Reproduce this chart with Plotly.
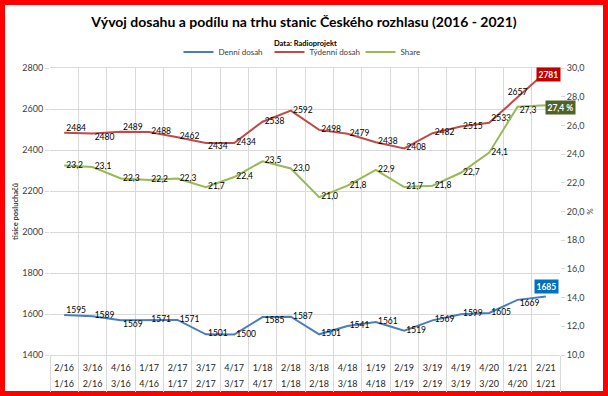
import plotly.graph_objects as go

# ---- data ----
q_start = ["1/16", "2/16", "3/16", "4/16", "1/17", "2/17", "3/17", "4/17", "1/18",
           "2/18", "3/18", "4/18", "1/19", "2/19", "3/19", "3/20", "4/20", "1/21"]
q_end = ["2/16", "3/16", "4/16", "1/17", "2/17", "3/17", "4/17", "1/18", "2/18",
         "3/18", "4/18", "1/19", "2/19", "3/19", "4/19", "4/20", "1/21", "2/21"]
daily = [1595, 1589, 1569, 1571, 1571, 1501, 1500, 1585, 1587,
         1501, 1541, 1561, 1519, 1569, 1599, 1605, 1669, 1685]
weekly = [2484, 2480, 2489, 2488, 2462, 2434, 2434, 2538, 2592,
          2498, 2479, 2438, 2408, 2482, 2515, 2533, 2657, 2781]
share = [23.2, 23.1, 22.3, 22.2, 22.3, 21.7, 22.4, 23.5, 23.0,
         21.0, 21.8, 22.9, 21.7, 21.8, 22.7, 24.1, 27.3, 27.4]

names = ["Denní dosah", "Týdenní dosah", "Share"]
title = "Vývoj dosahu a podílu na trhu stanic Českého rozhlasu (2016 - 2021)"
subtitle = "Data: Radioprojekt"

# label placement (T = above, B = below, C = above centred, . = beside)
pos_daily = list("T.B....B........B.")
pos_weekly = list("TBT..B.........TC.")
pos_share = list("................B.")

# ---- styling ----
W, H = 608, 396
ML, MR, MT, MB = 50, 48, 68, 41
PW, PH = W - ML - MR, H - MT - MB
FONT = "Lato"
C_BLUE, C_RED, C_GREEN = "#4A7EBB", "#BE4B48", "#98B954"
GRID = "#D9D9D9"
TXT = "#404040"
POSMAP = {"T": "top right", "B": "bottom right", "C": "top center", ".": "middle right"}
FRAME = 5

cats = [f"{a}-{b}" for a, b in zip(q_start, q_end)]
ticktext = [f"<span style='font-size:9px'>{b}</span><br><span style='font-size:9px'>{a}</span>"
            for a, b in zip(q_start, q_end)]


def comma(v):
    return f"{v:.1f}".replace(".", ",")


fig = go.Figure()
series = [(daily, C_BLUE, "y", [str(v) for v in daily], pos_daily),
          (weekly, C_RED, "y", [str(v) for v in weekly], pos_weekly),
          (share, C_GREEN, "y2", [comma(v) for v in share], pos_share)]
for (vals, col, yax, labels, pos), nm in zip(series, names):
    fig.add_trace(go.Scatter(x=cats, y=vals, name=nm, mode="lines", yaxis=yax,
                             line=dict(color=col, width=2)))
for (vals, col, yax, labels, pos), nm in zip(series, names):
    tp = [POSMAP[c] for c in pos]
    txt = [(" " + t) if p != "C" else t for t, p in zip(labels, pos)]
    txt[-1] = ""  # last value is shown in a coloured box
    fig.add_trace(go.Scatter(x=cats, y=vals, mode="text", yaxis=yax, showlegend=False,
                             text=txt, textposition=tp,
                             textfont=dict(family=FONT, size=8.5, color="#000000"),
                             hoverinfo="skip"))

# boxed labels for the last values
fig.add_annotation(x=cats[-1], y=weekly[-1], yref="y", text=f"<b>{weekly[-1]}</b>",
                   showarrow=False, bgcolor="#C00000", font=dict(family=FONT, size=8.5, color="white"),
                   borderpad=1.5, xshift=3, yshift=-3)
fig.add_annotation(x=cats[-1], y=share[-1], yref="y2", text=f"<b>{comma(share[-1])} %</b>",
                   showarrow=False, bgcolor="#4F6228", font=dict(family=FONT, size=8.5, color="white"),
                   borderpad=1.5, xanchor="left", xshift=-1, yshift=-2)
fig.add_annotation(x=cats[-1], y=daily[-1], yref="y", text=f"<b>{daily[-1]}</b>",
                   showarrow=False, bgcolor="#0070C0", font=dict(family=FONT, size=8.5, color="white"),
                   borderpad=1.5, xshift=1, yshift=10)
fig.add_annotation(x=0.5, xref="paper", y=(H - MB - 37) / PH, yref="paper", text=f"<b>{subtitle}</b>",
                   showarrow=False, font=dict(family=FONT, size=7.5, color="#000000"))

# red frame round the chart
half = FRAME / 2
fig.add_shape(type="rect", xref="paper", yref="paper",
              x0=(half - ML) / PW, x1=(W - half - ML) / PW,
              y0=(half - MB) / PH, y1=(H - half - MB) / PH,
              line=dict(color="#FF0000", width=FRAME), layer="below")

fig.update_layout(
    width=W, height=H, autosize=False,
    margin=dict(l=ML, r=MR, t=MT, b=MB),
    paper_bgcolor="white", plot_bgcolor="white",
    separators=", ",
    font=dict(family=FONT, size=9, color=TXT),
    title=dict(text=f"<b>{title}</b>", x=0.5, xanchor="center", xref="container",
               y=1 - 22 / H, yanchor="middle", yref="container",
               font=dict(family=FONT, size=14, color="#000000"), automargin=False),
    legend=dict(orientation="h", x=0.5 + 10 / PW, xanchor="center", y=(H - MB - 52) / PH,
                yanchor="middle",
                font=dict(family=FONT, size=8, color=TXT), bgcolor="rgba(0,0,0,0)",
                itemwidth=30, entrywidth=46, tracegroupgap=0),
    showlegend=True,
    xaxis=dict(type="category", tickmode="array", tickvals=cats, ticktext=ticktext,
               tickson="boundaries", ticks="outside", ticklen=36, tickcolor=GRID,
               ticklabelstandoff=0, tickangle=0, automargin=False,
               showgrid=True, gridcolor=GRID, showline=True, linecolor=GRID, mirror=True,
               tickfont=dict(family=FONT, size=12.3, color="#262626"), range=[-0.5, len(cats) - 0.5]),
    yaxis=dict(range=[1400, 2800], dtick=200, showgrid=True, gridcolor=GRID, automargin=False,
               ticks="outside", ticklen=4, tickcolor=GRID, zeroline=False,
               tickfont=dict(family=FONT, size=9, color=TXT),
               title=dict(text="<b>tisíce posluchačů</b>", font=dict(family=FONT, size=7.5, color=TXT),
                          standoff=2)),
    yaxis2=dict(range=[10, 30], dtick=2, overlaying="y", side="right", showgrid=False,
                automargin=False,
                tickformat=".1f", ticks="outside", ticklen=4, tickcolor=GRID, zeroline=False,
                tickfont=dict(family=FONT, size=9, color=TXT),
                title=dict(text="%", font=dict(family=FONT, size=8, color=TXT), standoff=2)),
)

fig.write_html("out.html", config={"displayModeBar": False},
               post_script="document.body.style.margin='0';")
